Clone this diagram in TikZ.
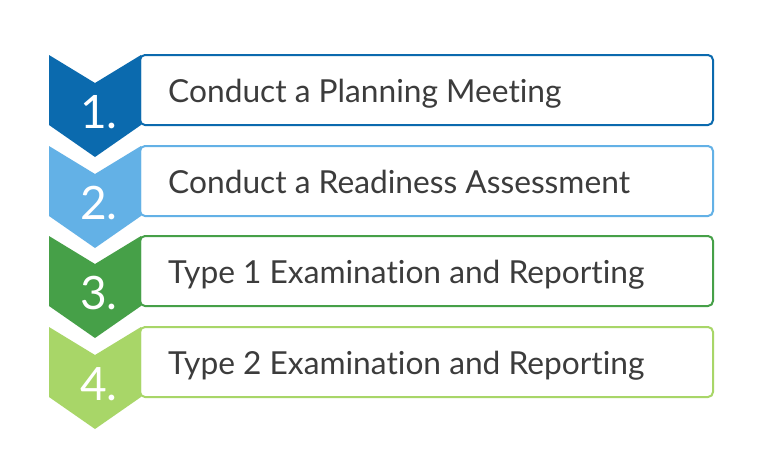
\documentclass[tikz,border=0pt]{standalone}
\usepackage{fontspec}
\setmainfont{Lato}[Ligatures={NoCommon}]
\definecolor{cA}{HTML}{0B6AAE}
\definecolor{cB}{HTML}{63B1E6}
\definecolor{cC}{HTML}{46A048}
\definecolor{cD}{HTML}{A8D668}
\definecolor{txt}{HTML}{3C3C3C}
\begin{document}
\begin{tikzpicture}[x=1pt,y=-1pt,
  stepbox/.style={draw=#1,line width=2pt,rounded corners=5pt,fill=white},
  numlabel/.style={text=white,font=\fontsize{46}{46}\selectfont,anchor=base,inner sep=0pt},
  steplabel/.style={text=txt,font=\fontsize{31.7}{32}\selectfont,anchor=base west,inner sep=0pt}]
\useasboundingbox (0,0) rectangle (762,458);
\fill[white] (0,0) rectangle (762,458);
\foreach \t/\c/\n/\lab [count=\i] in {55/cA/1/{Conduct a Planning Meeting},146/cB/2/{Conduct a Readiness Assessment},236/cC/3/{Type 1 Examination and Reporting},327/cD/4/{Type 2 Examination and Reporting}}{
  \pgfmathsetmacro{\b}{\t+70}
  \pgfmathsetmacro{\m}{\t+35+12}
  \draw[stepbox=\c] (140,\t) rectangle (713,\b) coordinate (box\i);
  \fill[\c] (49,\t) -- (95,\t+28) -- (141,\t) -- (141,\b) -- (95,\b+32) -- (49,\b) -- cycle;
  \node[numlabel] (num\i) at (99,\b+3) {\n.};
  \node[steplabel] (lab\i) at (168,\m) {\lab};
}
\end{tikzpicture}
\end{document}
